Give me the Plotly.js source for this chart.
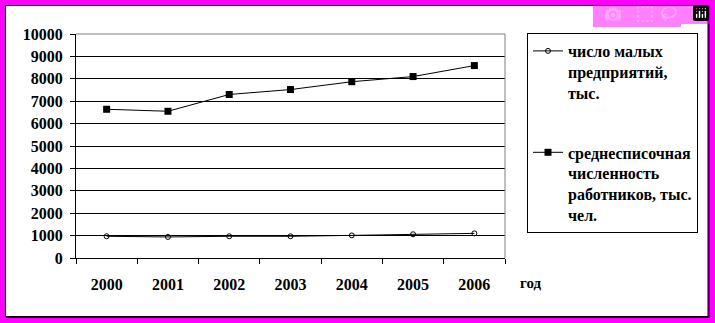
<!DOCTYPE html>
<html><head><meta charset="utf-8">
<script src="https://cdn.plot.ly/plotly-3.0.1.min.js"></script>
<style>
body{margin:0;background:#fff;}
.c{width:715px;height:323px;}
</style></head>
<body>
<div id="c1" class="c"></div>
<script>
const years = ['2000','2001','2002','2003','2004','2005','2006'];
const smallEnterprises = [970, 940, 970, 970, 1010, 1060, 1100];
const employees = [6640, 6550, 7300, 7520, 7870, 8100, 8590];
const seriesNames = ['число малых<br>предприятий,<br>тыс.', 'среднесписочная<br>численность<br>работников, тыс.<br>чел.'];
const yTicks = [0,1000,2000,3000,4000,5000,6000,7000,8000,9000,10000];

const F = 'Liberation Serif';
const W = 715, H = 323, L = 76, R = 210, T = 34, B = 65;
const pw = W - L - R, ph = H - T - B;
const px = v => (v - L) / pw;
const py = v => (H - B - v) / ph;

const traces = [
  {x: years, y: smallEnterprises, name: seriesNames[0], type:'scatter', mode:'lines+markers',
   line:{color:'#000', width:1}, marker:{symbol:'circle-open', size:5, color:'#000', line:{width:1, color:'#000'}},
   legendgroup:'a'},
  {x: years, y: employees, name: seriesNames[1], type:'scatter', mode:'lines+markers',
   line:{color:'#000', width:1}, marker:{symbol:'square', size:7, color:'#000'},
   legendgroup:'b'}
];

const layout = {
  width:W, height:H,
  margin:{l:L, r:R, t:T, b:B},
  font:{family:F, size:16, color:'#000'},
  paper_bgcolor:'#ff00ff', plot_bgcolor:'rgba(0,0,0,0)',
  showlegend:true,
  legend:{x:px(527), y:py(33), xanchor:'left', yanchor:'top', bordercolor:'#000', borderwidth:1,
          font:{family:F, size:16, weight:'bold'}, valign:'top', maxheight:300,
          traceorder:'grouped', tracegroupgap:36, bgcolor:'#fff'},
  xaxis:{type:'category', showgrid:false, showline:true, linecolor:'#000', linewidth:1,
         ticks:'outside', ticklen:5, tickcolor:'#000', tickson:'boundaries',
         tickfont:{family:F, size:16, weight:'bold'}, ticklabelstandoff:12,
         range:[-0.5,6.5], fixedrange:true},
  yaxis:{range:[0,10000], tickvals:yTicks, ticktext:yTicks.map(String), showgrid:true, gridcolor:'#000', gridwidth:1,
         showline:true, linecolor:'#000', linewidth:1, ticks:'outside', ticklen:5, tickcolor:'#000',
         zeroline:false, tickfont:{family:F, size:16, weight:'bold'}, ticklabelstandoff:4,
         fixedrange:true},
  shapes:[
    {type:'rect', xref:'paper', yref:'paper', x0:px(5.5), x1:px(708), y0:py(5.5), y1:py(316.5),
     fillcolor:'#fff', line:{color:'#000', width:1}, layer:'below'},
    {type:'line', xref:'paper', yref:'paper', x0:px(6), x1:px(709), y0:py(317.5), y1:py(317.5), line:{color:'#000', width:1}, layer:'below'},
    {type:'line', xref:'paper', yref:'paper', x0:px(709), x1:px(709), y0:py(6), y1:py(318), line:{color:'#000', width:1}, layer:'below'},
    {type:'line', xref:'paper', yref:'paper', x0:0, x1:1, y0:1, y1:1, line:{color:'#808080', width:1}, layer:'above'},
    {type:'line', xref:'paper', yref:'paper', x0:1, x1:1, y0:0, y1:1, line:{color:'#808080', width:1}, layer:'above'}
  ],
  annotations:[
    {text:'год', xref:'paper', yref:'paper', x:px(531), y:py(283), xanchor:'center', yanchor:'middle', showarrow:false,
     font:{family:F, size:15, weight:'bold'}}
  ]
};
Plotly.newPlot('c1', traces, layout);
</script>
</body></html>
